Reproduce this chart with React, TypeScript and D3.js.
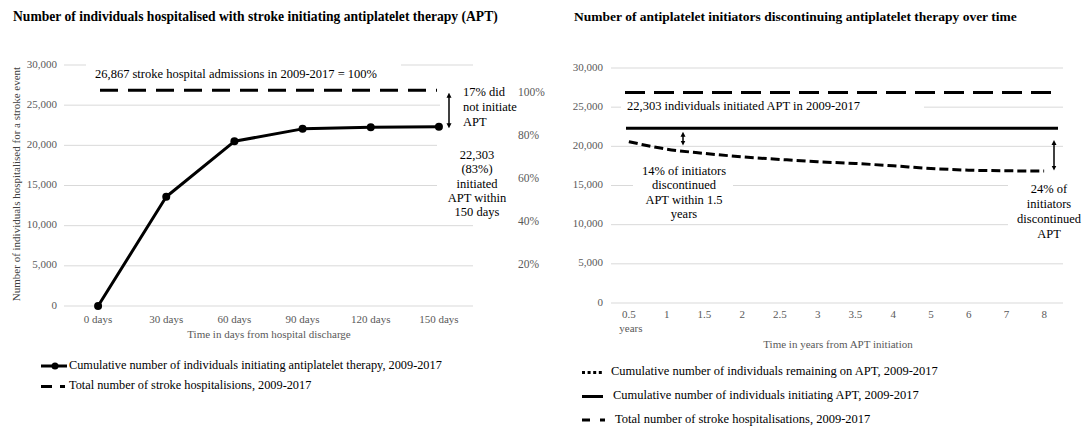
import React from "react";
import * as d3 from "d3";

const dayLabels = ["0 days", "30 days", "60 days", "90 days", "120 days", "150 days"];
const initiating = [0, 13600, 20500, 22050, 22250, 22303];
const totalHospitalisations = 26867;
const yearLabels = ["0.5", "1", "1.5", "2", "2.5", "3", "3.5", "4", "5", "6", "7", "8"];
const remaining = [20600, 19640, 19100, 18660, 18330, 18030, 17810, 17510, 17180, 16960, 16880, 16850];
const initiatedTotal = 22303;
const yTicks = [0, 5000, 10000, 15000, 20000, 25000, 30000];
const pctLabels = [1, 0.8, 0.6, 0.4, 0.2];

const FONT = "'Liberation Serif', 'Times New Roman', serif";
const GRID = "#d9d9d9";
const TICK = "#595959";

function Arrow({ x, y1, y2 }: { x: number; y1: number; y2: number }) {
  return (
    <line x1={x} x2={x} y1={y1 + 5} y2={y2 - 5} stroke="#000" strokeWidth={1.5}
      markerStart="url(#ah)" markerEnd="url(#ah)" />
  );
}

function Lines({ lines, x, y, lh, anchor }: { lines: string[]; x: number; y: number; lh: number; anchor: string }) {
  return (
    <text x={x} y={y} textAnchor={anchor as any} fontSize={12.5} fill="#000" dominantBaseline="middle">
      {lines.map((l, i) => (
        <tspan key={i} x={x} dy={i === 0 ? 0 : lh}>{l}</tspan>
      ))}
    </text>
  );
}

export default function App() {
  const fmt = d3.format(",");
  // Left chart
  const xL = d3.scaleBand<string>().domain(dayLabels).range([64, 473]);
  const yL = d3.scaleLinear().domain([0, 30000]).range([306, 65]);
  const cxL = (d: string) => (xL(d) as number) + xL.bandwidth() / 2;
  const lineL = d3.line<number>().x((_, i) => cxL(dayLabels[i])).y((v) => yL(v));

  // Right chart
  const xR = d3.scaleBand<string>().domain(yearLabels).range([610, 1063]);
  const yR = d3.scaleLinear().domain([0, 30000]).range([303, 68]);
  const cxR = (d: string) => (xR(d) as number) + xR.bandwidth() / 2;
  const lineR = d3.line<number>().x((_, i) => cxR(yearLabels[i])).y((v) => yR(v)).curve(d3.curveMonotoneX);

  const firstR = yearLabels[0];

  return (
    <svg width={1084} height={430} style={{ position: "absolute", left: 0, top: 0, background: "#fff" }} fontFamily={FONT}>
      <defs>
        <marker id="ah" viewBox="0 0 10 10" refX="5" refY="5" markerWidth="5" markerHeight="6"
          orient="auto-start-reverse" markerUnits="userSpaceOnUse">
          <path d="M0,0 L10,5 L0,10 z" fill="#000" />
        </marker>
      </defs>
      <rect x={0} y={0} width={1084} height={430} fill="#fff" />

      {/* ===== LEFT CHART ===== */}
      <text x={13} y={18} fontSize={13.6} fontWeight="bold" dominantBaseline="middle">
        Number of individuals hospitalised with stroke initiating antiplatelet therapy (APT)
      </text>
      {yTicks.map((t) => (
        <g key={"lg" + t}>
          <line x1={64} x2={473} y1={yL(t)} y2={yL(t)} stroke={GRID} strokeWidth={1} />
          <text x={57} y={yL(t)} textAnchor="end" dominantBaseline="middle" fontSize={11} fill={TICK}>{fmt(t)}</text>
        </g>
      ))}
      {/* annotation backgrounds */}
      <rect x={86} y={58} width={315} height={26} fill="#fff" />
      <rect x={440} y={84} width={100} height={48} fill="#fff" />
      <rect x={437} y={140} width={90} height={82} fill="#fff" />

      {dayLabels.map((d) => (
        <text key={d} x={cxL(d)} y={320} textAnchor="middle" dominantBaseline="middle" fontSize={11} fill={TICK}>{d}</text>
      ))}
      <text x={269} y={335} textAnchor="middle" dominantBaseline="middle" fontSize={11} fill={TICK}>
        Time in days from hospital discharge
      </text>
      <text transform="translate(17,184) rotate(-90)" textAnchor="middle" dominantBaseline="middle" fontSize={11} fill="#404040">
        Number of individuals hospitalised for a stroke event
      </text>
      {pctLabels.map((p) => (
        <text key={"p" + p} x={518} y={yL(p * totalHospitalisations) + 3} dominantBaseline="middle" fontSize={11.5} fill={TICK}>
          {Math.round(p * 100) + "%"}
        </text>
      ))}

      <line x1={100} x2={437} y1={yL(totalHospitalisations)} y2={yL(totalHospitalisations)} stroke="#000" strokeWidth={3} strokeDasharray="18,10" />
      <path d={lineL(initiating) as string} fill="none" stroke="#000" strokeWidth={3} strokeLinejoin="round" />
      {initiating.map((v, i) => (
        <circle key={i} cx={cxL(dayLabels[i])} cy={yL(v)} r={4} fill="#000" />
      ))}

      <Lines lines={["26,867 stroke hospital admissions in 2009-2017 = 100%"]} x={95} y={75} lh={15} anchor="start" />
      <Arrow x={449} y1={yL(totalHospitalisations)} y2={yL(initiating[initiating.length - 1]) + 4} />
      <Lines lines={["17% did", "not initiate", "APT"]} x={463} y={93} lh={15} anchor="start" />
      <Lines lines={["22,303", "(83%)", "initiated", "APT within", "150 days"]} x={477} y={156} lh={14.3} anchor="middle" />

      {/* legend left */}
      <line x1={41} x2={67} y1={366} y2={366} stroke="#000" strokeWidth={3} />
      <circle cx={55} cy={366} r={3.5} fill="#000" />
      <text x={69} y={366} dominantBaseline="middle" fontSize={12.3}>
        Cumulative number of individuals initiating antiplatelet therapy, 2009-2017
      </text>
      <line x1={41} x2={52} y1={386.5} y2={386.5} stroke="#000" strokeWidth={3} />
      <line x1={60} x2={65} y1={386.5} y2={386.5} stroke="#000" strokeWidth={3} />
      <text x={69} y={386.5} dominantBaseline="middle" fontSize={12.3}>
        Total number of stroke hospitalisions, 2009-2017
      </text>

      {/* ===== RIGHT CHART ===== */}
      <text x={574} y={18} fontSize={13.5} fontWeight="bold" dominantBaseline="middle">
        Number of antiplatelet initiators discontinuing antiplatelet therapy over time
      </text>
      {yTicks.map((t) => (
        <g key={"rg" + t}>
          <line x1={611} x2={1063} y1={yR(t)} y2={yR(t)} stroke={GRID} strokeWidth={1} />
          <text x={603} y={yR(t)} textAnchor="end" dominantBaseline="middle" fontSize={11} fill={TICK}>{fmt(t)}</text>
        </g>
      ))}
      <rect x={621} y={96} width={303} height={22} fill="#fff" />
      <rect x={633} y={162} width={100} height={62} fill="#fff" />
      <rect x={1008} y={180} width={76} height={64} fill="#fff" />

      {yearLabels.map((d) => (
        <text key={d} x={cxR(d)} y={315} textAnchor="middle" dominantBaseline="middle" fontSize={11} fill={TICK}>{d}</text>
      ))}
      <text x={cxR(firstR) + 2} y={329} textAnchor="middle" dominantBaseline="middle" fontSize={11} fill={TICK}>years</text>
      <text x={838} y={345} textAnchor="middle" dominantBaseline="middle" fontSize={11} fill={TICK}>
        Time in years from APT initiation
      </text>

      <line x1={625} x2={1058} y1={yR(totalHospitalisations)} y2={yR(totalHospitalisations)} stroke="#000" strokeWidth={3} strokeDasharray="20,9" />
      <line x1={626} x2={1058} y1={yR(initiatedTotal)} y2={yR(initiatedTotal)} stroke="#000" strokeWidth={3} />
      <path d={lineR(remaining) as string} fill="none" stroke="#000" strokeWidth={3} strokeDasharray="9,4" />

      <Lines lines={["22,303 individuals initiated APT in 2009-2017"]} x={627} y={107} lh={15} anchor="start" />
      <Arrow x={683} y1={yR(initiatedTotal) + 1} y2={148} />
      <Lines lines={["14% of initiators", "discontinued", "APT within 1.5", "years"]} x={684} y={172} lh={14.4} anchor="middle" />
      <Arrow x={1054} y1={137.5} y2={yR(remaining[remaining.length - 1]) + 2} />
      <Lines lines={["24% of", "initiators", "discontinued", "APT"]} x={1049} y={190} lh={15} anchor="middle" />

      {/* legend right */}
      <line x1={582} x2={602} y1={372.5} y2={372.5} stroke="#000" strokeWidth={3} strokeDasharray="3,2.6" />
      <text x={611} y={372.5} dominantBaseline="middle" fontSize={12.5}>
        Cumulative number of individuals remaining on APT, 2009-2017
      </text>
      <line x1={582} x2={603} y1={396.5} y2={396.5} stroke="#000" strokeWidth={3} />
      <text x={613} y={396.5} dominantBaseline="middle" fontSize={12.5}>
        Cumulative number of individuals initiating APT, 2009-2017
      </text>
      <line x1={582} x2={590} y1={420} y2={420} stroke="#000" strokeWidth={3} />
      <line x1={600} x2={605} y1={420} y2={420} stroke="#000" strokeWidth={3} />
      <text x={615} y={420} dominantBaseline="middle" fontSize={12.5}>
        Total number of stroke hospitalisations, 2009-2017
      </text>
    </svg>
  );
}
